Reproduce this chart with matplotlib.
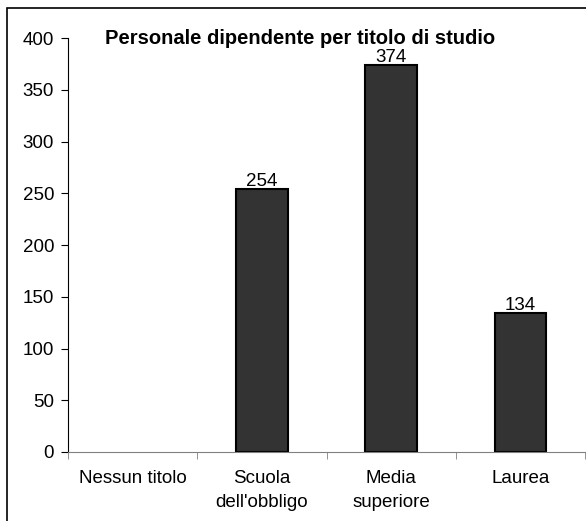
import numpy as np
import matplotlib.pyplot as plt
import matplotlib.transforms as mtransforms
from matplotlib.patches import Rectangle

plt.rcParams['font.family'] = ['Liberation Sans', 'DejaVu Sans']

categorie = ["Nessun titolo", "Scuola\ndell'obbligo", "Media\nsuperiore", "Laurea"]
valori = [0, 254, 374, 134]

fig = plt.figure(figsize=(5.86, 5.21), dpi=100)
# cornice esterna (tagliata a destra e in basso)
fig.patches.append(Rectangle((7 / 586, -0.1), 1.2, 1 - 8 / 521 + 0.1,
                             transform=fig.transFigure, fill=False,
                             edgecolor='black', linewidth=1.2))

ax = fig.add_axes([68 / 586, 1 - 452 / 521, 517 / 586, (452 - 38) / 521])
x = np.arange(len(categorie))
bordi = [0 if v == 0 else 1.5 for v in valori]
ax.bar(x, valori, width=0.4, color='#333333', edgecolor='black', linewidth=bordi)

for xi, v in zip(x, valori):
    if v > 0:
        ax.text(xi, v - 1, str(v), ha='center', va='bottom', fontsize=13.5)

ax.set_xlim(-0.5, len(categorie) - 0.5)
ax.set_ylim(0, 400)
ax.set_yticks(np.arange(0, 401, 50))
ax.set_xticks(x)
ax.set_xticklabels(categorie, fontsize=13.5, linespacing=1.55)
ax.set_xticks(np.arange(-0.5, len(categorie)), minor=True)
ax.tick_params(axis='x', which='major', length=0, pad=13)
ax.tick_params(axis='x', which='minor', length=5, color='#808080')
ax.tick_params(axis='y', length=5, labelsize=13.5, pad=5)

ax.spines['top'].set_visible(False)
ax.spines['right'].set_visible(False)
ax.spines['bottom'].set_color('#808080')
ax.spines['left'].set_color('black')

trans = mtransforms.blended_transform_factory(ax.transAxes, ax.transData)
ax.text((300 - 68) / 517, 400, 'Personale dipendente per titolo di studio',
        ha='center', va='center', fontsize=14.5, fontweight='bold', transform=trans)

plt.savefig('out.png', dpi=100)
